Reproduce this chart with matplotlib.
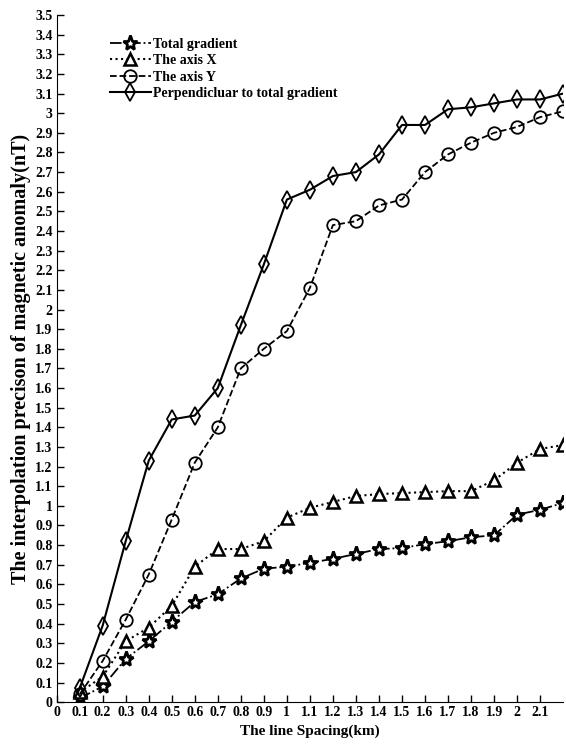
import numpy as np
import matplotlib
matplotlib.use('Agg')
import matplotlib.pyplot as plt

# %% data
spacing = [0.1, 0.2, 0.3, 0.4, 0.5, 0.6, 0.7, 0.8, 0.9, 1.0, 1.1,
           1.2, 1.3, 1.4, 1.5, 1.6, 1.7, 1.8, 1.9, 2.0, 2.1, 2.2]
total_grad = [0.02, 0.08, 0.22, 0.31, 0.41, 0.51, 0.55, 0.63, 0.68, 0.69, 0.71,
              0.73, 0.755, 0.78, 0.785, 0.805, 0.82, 0.84, 0.85, 0.955, 0.98, 1.015]
axis_x = [0.05, 0.13, 0.31, 0.38, 0.49, 0.69, 0.78, 0.78, 0.82, 0.94, 0.99,
          1.02, 1.05, 1.06, 1.065, 1.07, 1.075, 1.075, 1.13, 1.22, 1.29, 1.31]
axis_y = [0.04, 0.21, 0.42, 0.65, 0.93, 1.22, 1.40, 1.70, 1.80, 1.89, 2.11,
          2.43, 2.45, 2.53, 2.56, 2.70, 2.79, 2.85, 2.90, 2.93, 2.98, 3.01]
perp_grad = [0.07, 0.39, 0.82, 1.23, 1.44, 1.46, 1.60, 1.92, 2.23, 2.56, 2.61,
             2.68, 2.70, 2.79, 2.94, 2.94, 3.02, 3.03, 3.05, 3.07, 3.07, 3.10]

labels = ['Total gradient', 'The axis X', 'The axis Y', 'Perpendicluar to total gradient']

plt.rcParams['font.family'] = ['Liberation Serif', 'DejaVu Serif']
plt.rcParams['font.weight'] = 'bold'

fig = plt.figure(figsize=(5.66, 7.51), dpi=100)
ax = fig.add_axes([0.1, 0.065, 0.895, 0.915])

ax.plot(spacing, total_grad, linestyle='-.', marker='*', markersize=11, label=labels[0],
        color='black', markeredgecolor='black', markerfacecolor='white',
        linewidth=1.3, markeredgewidth=2)
ax.plot(spacing, axis_x, linestyle=':', marker='^', markersize=9, label=labels[1],
        color='black', markeredgecolor='black', markerfacecolor='white',
        linewidth=1.5, markeredgewidth=1.8)
ax.plot(spacing, axis_y, linestyle='--', marker='o', markersize=9, label=labels[2],
        color='black', markeredgecolor='black', markerfacecolor='none',
        linewidth=1.3, markeredgewidth=1.3)
ax.plot(spacing, perp_grad, linestyle='-', marker='d', markersize=9, label=labels[3],
        color='black', markeredgecolor='black', markerfacecolor='none',
        linewidth=1.5, markeredgewidth=1.3)

ax.set_xlim(0, 2.2)
ax.set_ylim(0, 3.5)
xt = np.round(np.arange(0, 2.15, 0.1), 1)
yt = np.round(np.arange(0, 3.55, 0.1), 1)
ax.set_xticks(xt)
ax.set_xticklabels(['%g' % v for v in xt])
ax.set_yticks(yt)
ax.set_yticklabels(['%g' % v for v in yt])
ax.tick_params(direction='in', length=5, width=1, labelsize=10, pad=3)

for s in ['top', 'right']:
    ax.spines[s].set_visible(False)

ax.set_xlabel('The line Spacing(km)', fontsize=11, fontweight='bold', labelpad=4)
ax.set_ylabel('The interpolation precison of magnetic anomaly(nT)', fontsize=14.5,
              fontweight='bold', labelpad=3)

ax.legend(loc='upper left', bbox_to_anchor=(0.095, 0.975), frameon=False,
          fontsize=10, handlelength=2.9, handletextpad=0.15, labelspacing=0.25,
          borderaxespad=0)

fig.savefig('out.png', dpi=100)
